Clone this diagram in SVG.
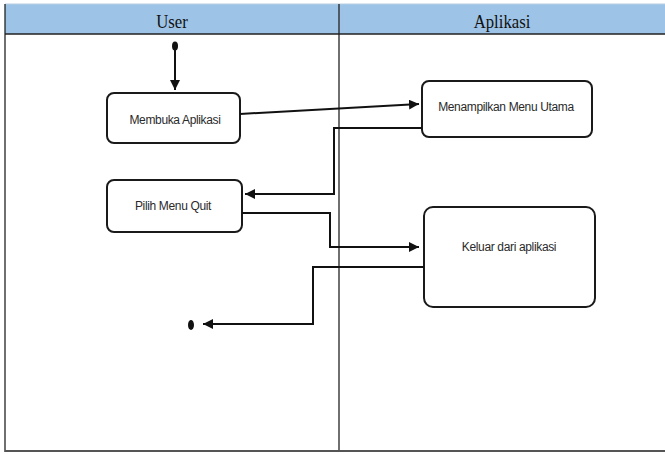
<svg xmlns="http://www.w3.org/2000/svg" width="665" height="454" viewBox="0 0 665 454">
  <style>
    .lane-title { font-family: "Liberation Serif", "Times New Roman", serif; font-size: 19px; fill: #111; text-anchor: middle; }
    .act { fill: #fff; stroke: #1a1a1a; stroke-width: 2; }
    .act-label { font-family: "Liberation Sans", Arial, sans-serif; font-size: 12px; letter-spacing: -0.35px; fill: #2a2a2a; text-anchor: middle; }
    .flow { fill: none; stroke: #111; stroke-width: 2; }
    .lane-line { stroke: #222; stroke-width: 1.3; }
  </style>
  <defs>
    <marker id="arrow" viewBox="0 0 10 10" refX="10" refY="5" markerWidth="10" markerHeight="10" markerUnits="userSpaceOnUse" orient="auto">
      <path d="M0,0 L10,5 L0,10 z" fill="#111"/>
    </marker>
  </defs>

  <rect x="0" y="0" width="665" height="454" fill="#fff"/>

  <!-- swimlane frame -->
  <g id="lanes">
    <rect x="5" y="4" width="660" height="30" fill="#9dc3e6"/>
    <line x1="5" y1="4" x2="665" y2="4" stroke="#b8cfe3" stroke-width="1"/>
    <line x1="5" y1="34" x2="665" y2="34" class="lane-line" stroke-width="1.8"/>
    <line x1="5" y1="4" x2="5" y2="452" class="lane-line" stroke="#555" stroke-width="2"/>
    <line x1="339" y1="4" x2="339" y2="452" class="lane-line"/>
    <line x1="5" y1="451" x2="665" y2="451" stroke="#555" stroke-width="2.2"/>
    <text class="lane-title" x="172" y="28" transform="translate(172 0) scale(0.88 1) translate(-172 0)">User</text>
    <text class="lane-title" x="502" y="28" transform="translate(502 0) scale(0.88 1) translate(-502 0)">Aplikasi</text>
  </g>

  <!-- start and end points -->
  <g id="start">
    <ellipse cx="175" cy="46" rx="3" ry="4.5" fill="#111"/>
  </g>
  <g id="end">
    <ellipse cx="191" cy="325" rx="3" ry="5" fill="#111"/>
  </g>

  <!-- activities -->
  <g id="membuka-aplikasi">
    <rect class="act" x="107" y="93" width="133" height="50" rx="7"/>
    <text class="act-label" x="175" y="124">Membuka Aplikasi</text>
  </g>
  <g id="menampilkan-menu-utama">
    <rect class="act" x="422" y="81" width="170" height="56" rx="7"/>
    <text class="act-label" x="506" y="111">Menampilkan Menu Utama</text>
  </g>
  <g id="pilih-menu-quit">
    <rect class="act" x="107" y="180" width="135" height="52" rx="7"/>
    <text class="act-label" x="173" y="210">Pilih Menu Quit</text>
  </g>
  <g id="keluar-dari-aplikasi">
    <rect class="act" x="424" y="207" width="171" height="100" rx="9"/>
    <text class="act-label" x="509" y="251">Keluar dari aplikasi</text>
  </g>

  <!-- control flows -->
  <g id="connectors">
    <line class="flow" x1="175" y1="49" x2="175" y2="90" marker-end="url(#arrow)"/>
    <line class="flow" x1="240" y1="114" x2="419" y2="104" marker-end="url(#arrow)"/>
    <polyline class="flow" points="422,128 334,128 334,194 245,194" marker-end="url(#arrow)"/>
    <polyline class="flow" points="242,213 330,213 330,247 419,247" marker-end="url(#arrow)"/>
    <polyline class="flow" points="424,267 313,267 313,324 203,324" marker-end="url(#arrow)"/>
  </g>
</svg>
